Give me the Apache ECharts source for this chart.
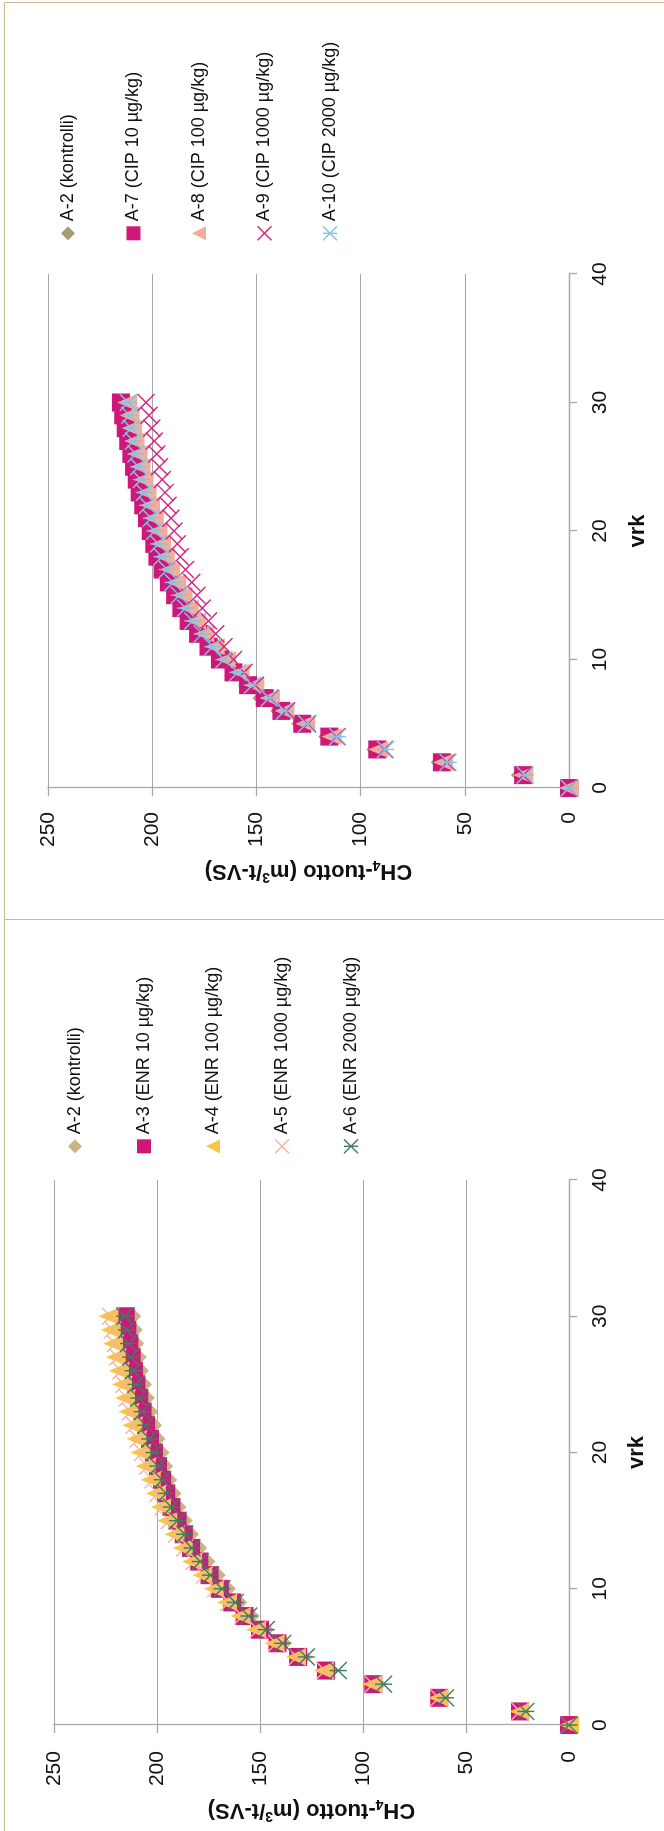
<!DOCTYPE html>
<html>
<head>
<meta charset="utf-8">
<script src="https://cdn.jsdelivr.net/npm/echarts@6/dist/echarts.min.js"></script>
<style>
  html, body { margin: 0; padding: 0; background: #fff; }
  body { width: 664px; height: 1831px; position: relative; overflow: hidden; }
  .frame { position: absolute; border: 1.5px solid #cdb990; box-sizing: border-box; }
  .chart { position: absolute; transform-origin: 0 0; transform: rotate(-90deg); }
</style>
</head>
<body>
<div class="frame" style="left:4px; top:2px; width:720px; height:918px;"></div>
<div class="frame" style="left:4px; top:918.5px; width:720px; height:960px;"></div>
<!-- each chart is laid out landscape and turned a quarter turn counter-clockwise -->
<div id="cip" class="chart" style="left:4px; top:919px; width:916px; height:660px;"></div>
<div id="enr" class="chart" style="left:4px; top:1831px; width:912px; height:660px;"></div>
<script>
// incubation day
const days = [0, 1, 2, 3, 4, 5, 6, 7, 8, 9, 10, 11, 12, 13, 14, 15, 16, 17, 18, 19, 20,
              21, 22, 23, 24, 25, 26, 27, 28, 29, 30];
const dayTicks = [0, 10, 20, 30, 40];
const yieldTicks = [0, 50, 100, 150, 200, 250];

// cumulative methane yield, m3 / t VS
const a2 = [0, 23.5, 62, 93, 116, 129, 139, 147.5, 154.5, 160.5, 166, 171, 176, 180, 184, 187,
            190, 192.5, 194.5, 196.5, 198.3, 200.2, 202, 203.8, 205.4, 206.8, 208.2, 209.4, 210.5, 211.3, 212];

// enrofloxacin
const a3 = [0, 23.8, 63, 95, 118, 131.5, 141.5, 150, 157.5, 163.5, 169.5, 174.5, 179.5, 183.5, 187, 190,
            193, 195.5, 197.5, 199.5, 201.5, 203.4, 205.3, 207, 208.6, 210, 211.2, 212.3, 213.4, 214.4, 215.2];
const a4 = [0, 24, 63.5, 95.5, 119, 132.5, 143, 152, 159.5, 166, 172.5, 178, 183, 187.5, 191.5, 195,
            198, 200.5, 203, 205.5, 208, 210, 212, 213.8, 215.5, 217, 218.5, 220, 221.3, 222.5, 223.6];
const a5 = [0, 23.8, 63.2, 95.2, 118.5, 132, 142, 151, 158.5, 165, 171.5, 177, 182, 186.5, 190.5, 194,
            197, 199.5, 202, 204.5, 207, 209, 211, 212.8, 214.5, 216, 217.5, 219, 220.3, 221.5, 222.6];
const a6 = [0, 21, 60, 90, 112, 127.5, 139, 147, 155.5, 162, 168.5, 174, 179, 183, 186.5, 190,
            193, 195.5, 197.5, 199.5, 201.5, 203.5, 205.5, 207.2, 208.8, 210.2, 211.5, 212.7, 213.8, 214.8, 215.6];

// ciprofloxacin
const a7 = [0, 22, 61, 92, 115, 128, 138, 146, 154, 161, 167.5, 173, 178, 182.5, 186, 189,
            192, 195, 197.5, 199, 200.7, 202.5, 204.3, 206, 207.4, 208.7, 210, 211.5, 212.7, 213.9, 215];
const a8 = [0, 22, 60.5, 91.5, 114, 126.5, 136.5, 143.5, 151, 158, 164.5, 170, 175, 179, 182.5, 185.5,
            188.5, 191.5, 194, 195.8, 197.5, 199.3, 201, 202.7, 204.2, 205.6, 207, 208.5, 209.7, 210.9, 212];
const a9 = [0, 22, 58.5, 88.5, 111.5, 125.5, 135.5, 143.5, 150.5, 156, 161, 165.5, 169.5, 173, 176, 178.5,
            181, 184, 186.5, 188, 189.5, 191, 192.4, 193.8, 195.2, 196.5, 197.8, 199, 200.2, 201.5, 203];
const a10 = [0, 21, 58, 88, 111, 126, 136.5, 144, 152, 159, 165.5, 171, 176, 180.5, 184, 187,
             190, 192.8, 195.3, 197, 198.8, 200.5, 202.2, 203.8, 205.2, 206.5, 207.8, 209, 210, 210.8, 211.5];

const FONT = 'Liberation Sans, Arial, sans-serif';
const X_MARK = 'path://M0,0L20,20M20,0L0,20';
const STAR_MARK = 'path://M0,0L20,20M20,0L0,20M10,0L10,20';

const MARKS = {
  diamond: { symbol: 'diamond', symbolSize: 18, stroke: false },
  square: { symbol: 'rect', symbolSize: 18, stroke: false },
  triangle: { symbol: 'triangle', symbolSize: [17, 20], stroke: false },
  cross: { symbol: X_MARK, symbolSize: 17, stroke: true },
  star: { symbol: STAR_MARK, symbolSize: 17, stroke: true }
};

function pairs(values) {
  return days.map((d, i) => [d, values[i]]);
}

function makeSeries(name, values, mark, color) {
  const m = MARKS[mark];
  return {
    name: name,
    type: 'scatter',
    data: pairs(values),
    symbol: m.symbol,
    symbolSize: m.symbolSize,
    itemStyle: m.stroke
      ? { color: 'rgba(0,0,0,0)', borderColor: color, borderWidth: 1.4, opacity: 1 }
      : { color: color, opacity: 1 },
    emphasis: { disabled: true }
  };
}

function legendEntry(s) {
  const isStroke = s.itemStyle.borderWidth > 0;
  return isStroke
    ? { name: s.name, itemStyle: { borderWidth: 1.4 } }
    : { name: s.name };
}

function buildOption(cfg) {
  const axisGray = '#a8a8a8';
  return {
    animation: false,
    grid: cfg.grid,
    legend: {
      orient: 'vertical',
      left: cfg.legend.left,
      top: cfg.legend.top,
      itemGap: cfg.legend.gap,
      itemWidth: 14,
      itemHeight: 14,
      itemTextGap: 6,
      selectedMode: false,
      textStyle: { fontFamily: FONT, fontSize: 18, lineHeight: 18, color: '#111' },
      data: cfg.series.map(legendEntry)
    },
    xAxis: {
      type: 'value',
      min: dayTicks[0],
      max: dayTicks[dayTicks.length - 1],
      interval: dayTicks[1] - dayTicks[0],
      axisLine: { show: true, onZero: false, lineStyle: { color: axisGray, width: 1.3 } },
      axisTick: { show: true, length: 8, lineStyle: { color: axisGray, width: 1.3 } },
      splitLine: { show: false },
      axisLabel: { margin: 21, fontFamily: FONT, fontSize: 21, color: '#111' },
      name: 'vrk',
      nameLocation: 'middle',
      nameGap: cfg.xNameGap,
      nameTextStyle: { fontFamily: FONT, fontWeight: 'bold', fontSize: 22, lineHeight: 24, color: '#111' }
    },
    yAxis: {
      type: 'value',
      min: yieldTicks[0],
      max: yieldTicks[yieldTicks.length - 1],
      interval: yieldTicks[1] - yieldTicks[0],
      axisLine: { show: true, onZero: false, lineStyle: { color: axisGray, width: 1.3 } },
      axisTick: { show: true, length: 8, lineStyle: { color: axisGray, width: 1.3 } },
      splitLine: { show: true, lineStyle: { color: '#a6a6a6', width: 1.2 } },
      axisLabel: { margin: cfg.yLabelMargin, fontFamily: FONT, fontSize: 21, color: '#111' },
      name: '{m|CH}{s|4}{m|-tuotto (m}{p|3}{m|/t-VS)}',
      nameLocation: 'middle',
      nameGap: cfg.yNameGap,
      nameTextStyle: {
        fontFamily: FONT, fontWeight: 'bold', fontSize: 22, color: '#111',
        rich: {
          m: { fontFamily: FONT, fontWeight: 'bold', fontSize: 22, lineHeight: 26, color: '#111' },
          s: { fontFamily: FONT, fontWeight: 'bold', fontSize: 14, lineHeight: 14, verticalAlign: 'bottom', color: '#111' },
          p: { fontFamily: FONT, fontWeight: 'bold', fontSize: 14, lineHeight: 18, verticalAlign: 'top', color: '#111' }
        }
      }
    },
    series: cfg.series
  };
}

const cipSeries = [
  makeSeries('A-2 (kontrolli)', a2, 'diamond', '#a99b72'),
  makeSeries('A-7 (CIP 10 µg/kg)', a7, 'square', '#cf1779'),
  makeSeries('A-8 (CIP 100 µg/kg)', a8, 'triangle', '#f3ad98'),
  makeSeries('A-9 (CIP 1000 µg/kg)', a9, 'cross', '#d3237f'),
  makeSeries('A-10 (CIP 2000 µg/kg)', a10, 'star', '#7fc5ea')
];

const enrSeries = [
  makeSeries('A-2 (kontrolli)', a2, 'diamond', '#c9b484'),
  makeSeries('A-3 (ENR 10 µg/kg)', a3, 'square', '#cf1779'),
  makeSeries('A-4 (ENR 100 µg/kg)', a4, 'triangle', '#f7c646'),
  makeSeries('A-5 (ENR 1000 µg/kg)', a5, 'cross', '#f4b2a4'),
  makeSeries('A-6 (ENR 2000 µg/kg)', a6, 'star', '#3e7b69')
];

const cipChart = echarts.init(document.getElementById('cip'), null, { renderer: 'canvas' });
cipChart.setOption(buildOption({
  grid: { left: 131, top: 44, width: 514, height: 521 },
  legend: { left: 673, top: 50, gap: 47.5 },
  xNameGap: 57,
  yNameGap: 69,
  yLabelMargin: 24,
  series: cipSeries
}));

const enrChart = echarts.init(document.getElementById('enr'), null, { renderer: 'canvas' });
enrChart.setOption(buildOption({
  grid: { left: 95, top: 50, width: 556, height: 515 },
  legend: { left: 672, top: 57, gap: 51 },
  xNameGap: 56,
  yNameGap: 66,
  yLabelMargin: 26,
  series: enrSeries
}));
</script>
</body>
</html>
